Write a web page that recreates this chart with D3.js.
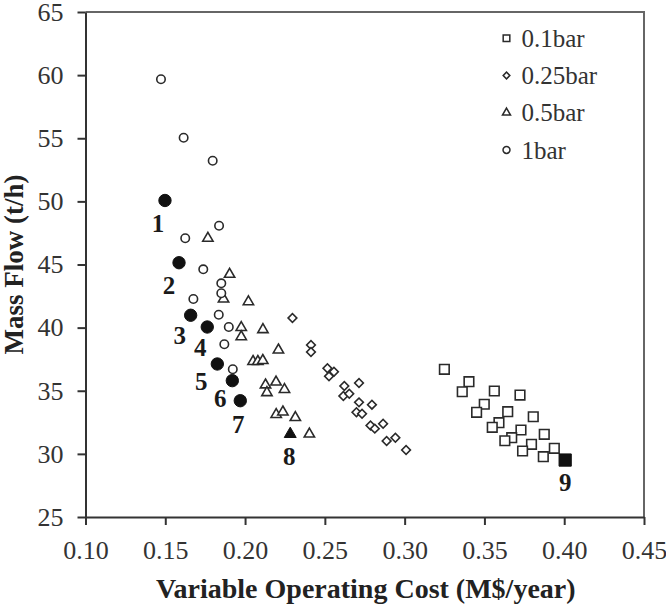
<!DOCTYPE html>
<html>
<head>
<meta charset="utf-8">
<script src="https://cdn.jsdelivr.net/npm/d3@7"></script>
<style>
  body { margin: 0; background: #fff; }
  svg { display: block; }
  .tick text { font-family: 'Liberation Serif', 'Times New Roman', serif; font-size: 26px; fill: #333; }
  .axis path, .axis line { stroke: #333; stroke-width: 2; }
  .frame { stroke: #666; stroke-width: 2; fill: none; }
  .title { font-family: 'Liberation Serif', 'Times New Roman', serif; font-weight: bold; font-size: 27px; fill: #222; }
  .legend text { font-family: 'Liberation Serif', 'Times New Roman', serif; font-size: 25px; fill: #333; }
  .num { font-family: 'Liberation Serif', 'Times New Roman', serif; font-weight: bold; font-size: 25px; fill: #1a1a1a; }
</style>
</head>
<body>
<div id="chart"></div>
<script>
// series: [cost M$/year, mass flow t/h]
const bar01 = [
  [0.3249, 36.70], [0.3403, 35.72], [0.3361, 34.92], [0.3562, 34.98], [0.3723, 34.66],
  [0.3499, 33.93], [0.3451, 33.29], [0.3646, 33.34], [0.3806, 32.94], [0.3591, 32.47],
  [0.3549, 32.10], [0.3729, 31.89], [0.3875, 31.55], [0.3671, 31.28], [0.3628, 31.04],
  [0.3795, 30.76], [0.3739, 30.23], [0.3938, 30.44], [0.3869, 29.78]
];
const bar025 = [
  [0.2297, 40.76], [0.2413, 38.62], [0.2413, 38.07], [0.2516, 36.78], [0.2557, 36.51],
  [0.2526, 36.14], [0.2622, 35.38], [0.2714, 35.61], [0.2616, 34.58], [0.2653, 34.77],
  [0.2714, 34.08], [0.2795, 33.90], [0.2698, 33.29], [0.2733, 33.18], [0.2786, 32.25],
  [0.2865, 32.38], [0.2813, 32.00], [0.2887, 31.02], [0.2942, 31.28], [0.3009, 30.31]
];
const bar05 = [
  [0.1767, 47.08], [0.1903, 44.22], [0.1865, 42.27], [0.2021, 42.05], [0.1976, 40.01],
  [0.1976, 39.28], [0.2112, 39.84], [0.2209, 38.23], [0.2050, 37.32], [0.2080, 37.32],
  [0.2111, 37.40], [0.2128, 35.46], [0.2194, 35.69], [0.2247, 35.10], [0.2137, 34.85],
  [0.2195, 33.12], [0.2237, 33.32], [0.2315, 32.88], [0.2403, 31.57]
];
const bar1 = [
  [0.1473, 59.67], [0.1615, 55.04], [0.1797, 53.22], [0.1837, 48.07], [0.1625, 47.08],
  [0.1738, 44.62], [0.1851, 43.51], [0.1851, 42.72], [0.1676, 42.27], [0.1835, 41.02],
  [0.1898, 40.05], [0.1870, 38.68], [0.1923, 36.70]
];
// highlighted designs 1..9
const picked = [
  [0.1498, 50.07], [0.1586, 45.14], [0.1659, 40.98], [0.1763, 40.05], [0.1826, 37.12],
  [0.1920, 35.80], [0.1970, 34.21], [0.2283, 31.57], [0.4006, 29.51]
];
const pickedShape = ['circle', 'circle', 'circle', 'circle', 'circle', 'circle', 'circle', 'triangle', 'square'];
const pickedNames = ['1', '2', '3', '4', '5', '6', '7', '8', '9'];
const seriesNames = ['0.1bar', '0.25bar', '0.5bar', '1bar'];
const seriesShapes = ['square', 'diamond', 'triangle', 'circle'];
const xTicks = [0.10, 0.15, 0.20, 0.25, 0.30, 0.35, 0.40, 0.45];
const yTicks = [25, 30, 35, 40, 45, 50, 55, 60, 65];

let w = 666, h = 605;
let padLeft = 85.5, padRight = 644, padTop = 12, padBottom = 517;

let svg = d3.select('#chart').append('svg').attr('width', w).attr('height', h);

let x = d3.scaleLinear().domain([0.10, 0.45]).range([padLeft, padRight]);
let y = d3.scaleLinear().domain([25, 65]).range([padBottom, padTop]);

// shape generators, sized in px area
function symbolFor(shape, big){
    let s = d3.symbol();
    if(shape === 'square') s.type(d3.symbolSquare).size(big ? 150 : 92);
    else if(shape === 'diamond') s.type(d3.symbolSquare).size(38);
    else if(shape === 'triangle') s.type(d3.symbolTriangle).size(big ? 62 : 46);
    else s.type(d3.symbolCircle).size(big ? 120 : 56);
    return s;
}

//frame (top + right)
svg.append('path').classed('frame', true)
    .attr('d', `M${padLeft},${padTop}H${padRight}V${padBottom}`);

//axes
svg.append('g').classed('axis', true)
    .attr('transform', `translate(0,${padBottom})`)
    .call(d3.axisBottom(x).tickValues(xTicks).tickFormat(d3.format('.2f'))
        .tickSize(8).tickSizeOuter(0).tickPadding(16));
svg.append('g').classed('axis', true)
    .attr('transform', `translate(${padLeft},0)`)
    .call(d3.axisLeft(y).tickValues(yTicks).tickFormat(d3.format('d'))
        .tickSize(8).tickSizeOuter(0).tickPadding(14));

svg.append('text').classed('title', true)
    .attr('text-anchor', 'middle').style('font-size', '28px')
    .attr('x', (padLeft + padRight) / 2 + 1).attr('y', 598)
    .text('Variable Operating Cost (M$/year)');
svg.append('text').classed('title', true)
    .attr('text-anchor', 'middle')
    .attr('transform', `translate(23,${(padTop + padBottom) / 2}) rotate(-90)`)
    .text('Mass Flow (t/h)');

//open markers
let allSeries = [bar01, bar025, bar05, bar1];
allSeries.forEach((data, i) => {
    let shape = seriesShapes[i];
    svg.append('g').selectAll('path').data(data).enter().append('path')
        .attr('d', symbolFor(shape, false))
        .attr('transform', (d) => `translate(${x(d[0])},${y(d[1])})` + (shape === 'diamond' ? ' rotate(45)' : ''))
        .attr('fill', '#fff').attr('stroke', '#2a2a2a').attr('stroke-width', 1.6);
});

//filled markers + numbers
// label nudges in px from each marker
let nudge = [[-7, 23], [-10, 23], [-11, 20], [-7, 21], [-16, 18], [-12, 18], [-2, 24], [-1, 23], [0, 23]];
picked.forEach((d, i) => {
    svg.append('path')
        .attr('d', symbolFor(pickedShape[i], true))
        .attr('transform', `translate(${x(d[0])},${y(d[1])})`)
        .attr('fill', '#111').attr('stroke', '#111').attr('stroke-width', 1);
    svg.append('text').classed('num', true)
        .attr('text-anchor', 'middle')
        .attr('x', x(d[0]) + nudge[i][0]).attr('y', y(d[1]) + nudge[i][1])
        .attr('dy', '0.33em')
        .text(pickedNames[i]);
});

//legend
let legend = svg.append('g').classed('legend', true);
seriesNames.forEach((name, i) => {
    let ly = 38.3 + i * 37.2;
    let shape = seriesShapes[i];
    let s = d3.symbol();
    if(shape === 'square') s.type(d3.symbolSquare).size(44);
    else if(shape === 'diamond') s.type(d3.symbolSquare).size(22);
    else if(shape === 'triangle') s.type(d3.symbolTriangle).size(28);
    else s.type(d3.symbolCircle).size(38);
    legend.append('path').attr('d', s)
        .attr('transform', `translate(506.5,${ly})` + (shape === 'diamond' ? ' rotate(45)' : ''))
        .attr('fill', '#fff').attr('stroke', '#2a2a2a').attr('stroke-width', 1.5);
    legend.append('text').attr('x', 521.5).attr('y', ly).attr('dy', '0.35em').text(name);
});
</script>
</body>
</html>
